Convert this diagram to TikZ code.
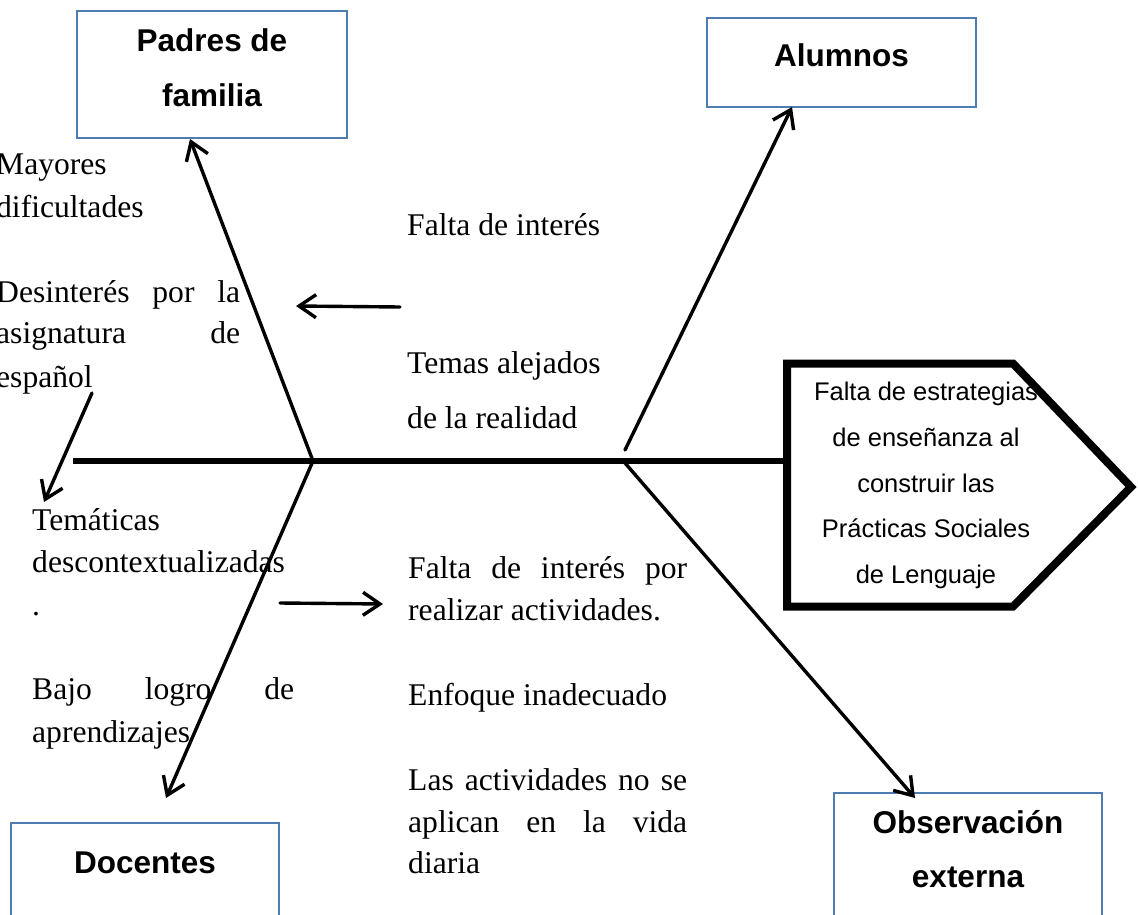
\documentclass[tikz,border=0pt]{standalone}
\usepackage{fontspec}
\setmainfont{Liberation Serif}
\newfontfamily\arialfont{Liberation Sans}
\usetikzlibrary{arrows.meta}
\definecolor{boxblue}{RGB}{79,125,178}
\begin{document}
\begin{tikzpicture}[x=1pt,y=-1pt,
  txt/.style={inner sep=0pt,anchor=base west,font=\fontsize{31.6}{42}\selectfont},
  cattxt/.style={inner sep=0pt,anchor=base,font=\arialfont\bfseries\fontsize{31.5}{40}\selectfont},
  efftxt/.style={inner sep=0pt,anchor=base,font=\arialfont\fontsize{25.5}{46}\selectfont},
  catbox/.style={draw=boxblue,line width=2pt,fill=white,inner sep=0pt},
  bone/.style={line width=3.4pt,line cap=round,-{Straight Barb[length=17pt,width=23pt]}},
  spine/.style={line width=5.5pt},
  head/.style={line width=8pt,line join=miter}]
\useasboundingbox (0,0) rectangle (1138,915);
\clip (0,0) rectangle (1138,915);

% category boxes
\node[catbox,minimum width=270pt,minimum height=127pt] (padres) at (212,74.5) {};
\node[catbox,minimum width=269pt,minimum height=89pt] (alumnos) at (841.5,62.5) {};
\node[catbox,minimum width=268pt,minimum height=137pt] (docentes) at (145,891.5) {};
\node[catbox,minimum width=268pt,minimum height=167pt] (observ) at (968,876.5) {};

\node[cattxt] (padrest1) at (212,52) {Padres de};
\node[cattxt] (padrest2) at (212,107) {familia};
\node[cattxt] (alumnost) at (841.5,67) {Alumnos};
\node[cattxt] (docentest) at (145,873) {Docentes};
\node[cattxt] (observt1) at (968,833) {Observación};
\node[cattxt] (observt2) at (968,887) {externa};

% head (effect)
\draw[head] (787,363.5) -- (1013,363.5) -- (1131,487) -- (1013,606.5) -- (787,606.5) -- cycle;
\coordinate (headin) at (787,461);
\node[efftxt] (e1) at (926,400) {Falta de estrategias};
\node[efftxt] (e2) at (926,446) {de enseñanza al};
\node[efftxt] (e3) at (926,492) {construir las};
\node[efftxt] (e4) at (926,537) {Prácticas Sociales};
\node[efftxt] (e5) at (926,583) {de Lenguaje};

% spine
\coordinate (tail) at (73,461);
\draw[spine] (tail) -- (headin);

% bones
\coordinate (j1) at (313,461);
\coordinate (j2up) at (625,450);
\coordinate (j2dn) at (625,463);
\coordinate (tipP) at (190,139);
\coordinate (tipA) at (792,107);
\coordinate (tipD) at (166,798);
\coordinate (tipO) at (915,798);
\draw[bone] (j1) -- (tipP);
\draw[bone] (j1) -- (tipD);
\draw[bone] (j2up) -- (tipA);
\draw[bone] (j2dn) -- (tipO);

% small arrows
\coordinate (s1a) at (92,393);
\coordinate (s1b) at (44,502);
\coordinate (s2a) at (400,307);
\coordinate (s2b) at (296,306);
\coordinate (s3a) at (280,603);
\coordinate (s3b) at (383,604);
\draw[bone] (s1a) -- (s1b);
\draw[bone] (s2a) -- (s2b);
\draw[bone] (s3a) -- (s3b);

% cause texts
\node[txt] (t1) at (-4,175) {Mayores};
\node[txt] (t2) at (-4,217) {dificultades};
\node[txt] (t3) at (-4,302) {\makebox[244pt][s]{Desinterés por la}};
\node[txt] (t4) at (-4,343) {\makebox[244pt][s]{asignatura de}};
\node[txt] (t5) at (-4,387) {español};
\node[txt] (t6) at (32,530) {Temáticas};
\node[txt] (t7) at (32,572) {descontextualizadas};
\node[txt] (t8) at (32,615) {.};
\node[txt] (t9) at (32,699) {\makebox[262pt][s]{Bajo logro de}};
\node[txt] (t10) at (32,742) {aprendizajes};
\node[txt] (m1) at (407,235) {Falta de interés};
\node[txt] (m2) at (407,373) {Temas alejados};
\node[txt] (m3) at (407,428) {de la realidad};
\node[txt] (m4) at (408,578) {\makebox[279pt][s]{Falta de interés por}};
\node[txt] (m5) at (408,620) {realizar actividades.};
\node[txt] (m6) at (408,705) {Enfoque inadecuado};
\node[txt] (m7) at (408,790) {\makebox[279pt][s]{Las actividades no se}};
\node[txt] (m8) at (408,832) {\makebox[279pt][s]{aplican en la vida}};
\node[txt] (m9) at (408,873) {diaria};
\end{tikzpicture}
\end{document}
